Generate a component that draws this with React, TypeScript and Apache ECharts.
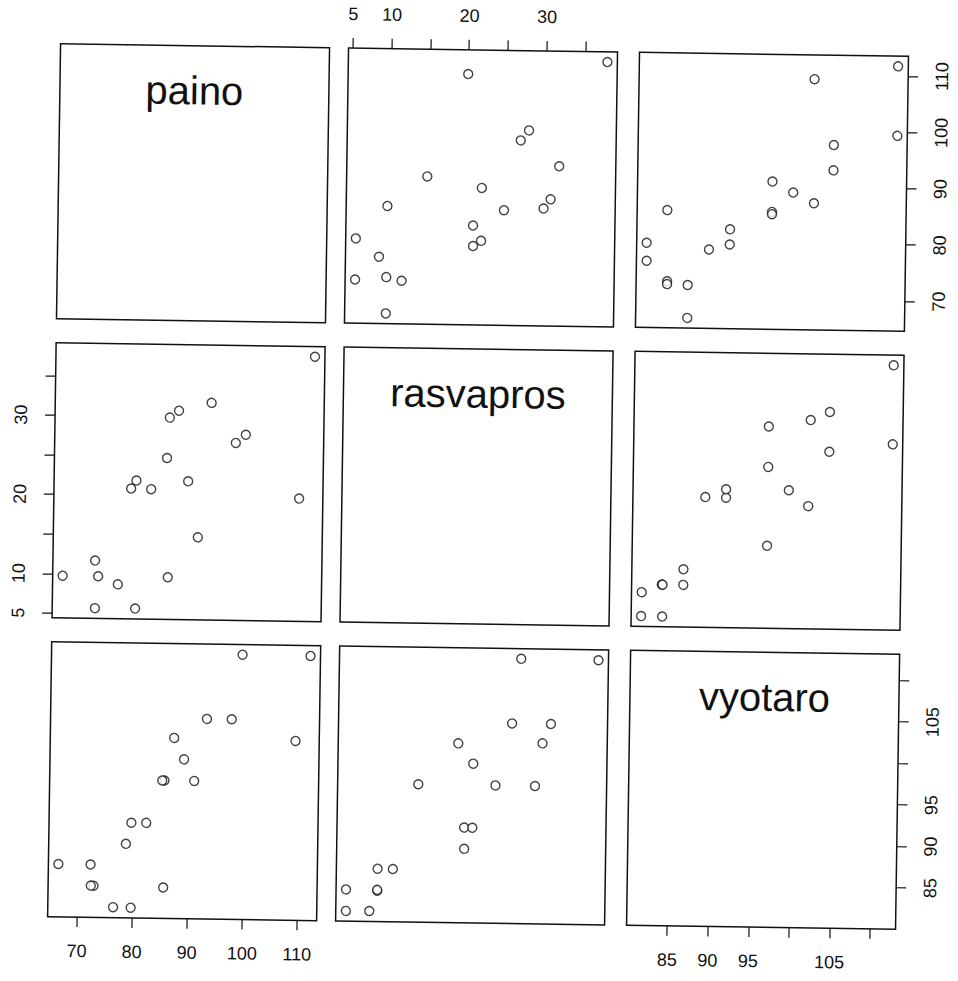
import React, { useEffect, useRef } from "react";
import * as echarts from "echarts";

// ---- data (20 observations) ----
const names = ["paino", "rasvapros", "vyotaro"];
const paino = [111.7, 99.35, 109.2, 97.55, 93.05, 90.9, 89.0, 87.15, 85.5, 85.1, 85.55, 82.3, 79.6, 78.66, 79.7, 76.5, 72.9, 72.4, 72.3, 66.45];
const rasvapros = [37.85, 27.88, 19.93, 26.83, 31.84, 14.85, 21.9, 30.79, 29.9, 24.8, 9.76, 20.84, 21.9, 20.88, 5.75, 8.77, 9.75, 5.73, 11.73, 9.76];
const vyotaro = [111.87, 111.9, 101.6, 104.1, 104.1, 96.6, 99.18, 101.75, 96.6, 96.6, 83.7, 91.46, 91.45, 88.9, 81.21, 81.24, 83.8, 83.8, 86.34, 86.35];

// tick marks and labelled ticks per variable
const painoTicks = [70, 80, 90, 100, 110];
const painoLabels = [70, 80, 90, 100, 110];
const rasvaTicks = [5, 10, 15, 20, 25, 30, 35];
const rasvaLabels = [5, 10, 20, 30];
const vyoTicks = [85, 90, 95, 100, 105, 110];
const vyoLabels = [85, 90, 95, 105];

const vars = [paino, rasvapros, vyotaro];
const ticks = [painoTicks, rasvaTicks, vyoTicks];
const labels = [painoLabels, rasvaLabels, vyoLabels];

// layout
const COL_LEFT = [54, 342, 633];
const ROW_TOP = [50, 349, 648];
const W = 269;
const H = 275;
const INK = "#111";
const FONT = '"Liberation Sans", Arial, Helvetica, sans-serif';

function range(v: number[]) {
  const lo = Math.min(...v);
  const hi = Math.max(...v);
  const pad = (hi - lo) * 0.04;
  return [lo - pad, hi + pad];
}

export default function App() {
  const ref = useRef<HTMLDivElement>(null);

  useEffect(() => {
    document.body.style.margin = "0";
    if (!ref.current) return;
    const chart = echarts.init(ref.current, null, { renderer: "svg" });

    const grid: any[] = [];
    const xAxis: any[] = [];
    const yAxis: any[] = [];
    const series: any[] = [];
    const graphic: any[] = [];

    for (let r = 0; r < 3; r++) {
      for (let c = 0; c < 3; c++) {
        const idx = r * 3 + c;
        grid.push({
          left: COL_LEFT[c],
          top: ROW_TOP[r],
          width: W,
          height: H,
          show: true,
          borderColor: INK,
          borderWidth: 1.5,
          backgroundColor: "transparent",
        });
        const [xmin, xmax] = range(vars[c]);
        const [ymin, ymax] = range(vars[r]);
        const showX = (r === 0 && c === 1) || (r === 2 && c !== 1);
        const showY = (c === 0 && r === 1) || (c === 2 && r !== 1);
        xAxis.push({
          type: "value",
          gridIndex: idx,
          min: xmin,
          max: xmax,
          show: showX,
          position: r === 0 ? "top" : "bottom",
          splitLine: { show: false },
          axisLine: { show: false },
          axisTick: {
            show: true,
            length: 10,
            customValues: ticks[c],
            lineStyle: { color: INK, width: 1.2 },
          },
          axisLabel: {
            customValues: labels[c],
            margin: 25,
            fontSize: 18,
            color: INK,
            fontFamily: FONT,
          },
        });
        yAxis.push({
          type: "value",
          gridIndex: idx,
          min: ymin,
          max: ymax,
          show: showY,
          position: c === 0 ? "left" : "right",
          splitLine: { show: false },
          axisLine: { show: false },
          axisTick: {
            show: true,
            length: 10,
            customValues: ticks[r],
            lineStyle: { color: INK, width: 1.2 },
          },
          axisLabel: {
            customValues: labels[r],
            rotate: 90,
            margin: 25,
            fontSize: 18,
            color: INK,
            fontFamily: FONT,
          },
        });
        if (r === c) {
          graphic.push({
            type: "text",
            x: COL_LEFT[c] + W / 2,
            y: ROW_TOP[r] + 44.6,
            style: {
              text: names[r],
              font: `40px ${FONT}`,
              fill: INK,
              textAlign: "center",
              textVerticalAlign: "middle",
              align: "center",
              verticalAlign: "middle",
            },
          });
        } else {
          series.push({
            type: "scatter",
            xAxisIndex: idx,
            yAxisIndex: idx,
            symbol: "circle",
            symbolSize: 9,
            itemStyle: { color: "#fff", borderColor: INK, borderWidth: 1.4 },
            data: vars[c].map((v, i) => [v, vars[r][i]]),
          });
        }
      }
    }

    chart.setOption({
      animation: false,
      backgroundColor: "#fff",
      grid,
      xAxis,
      yAxis,
      series,
      graphic,
    });
    return () => chart.dispose();
  }, []);

  return (
    <div
      ref={ref}
      style={{
        width: 958,
        height: 981,
        transform: "rotate(0.85deg)",
        transformOrigin: "479px 490px",
      }}
    />
  );
}
